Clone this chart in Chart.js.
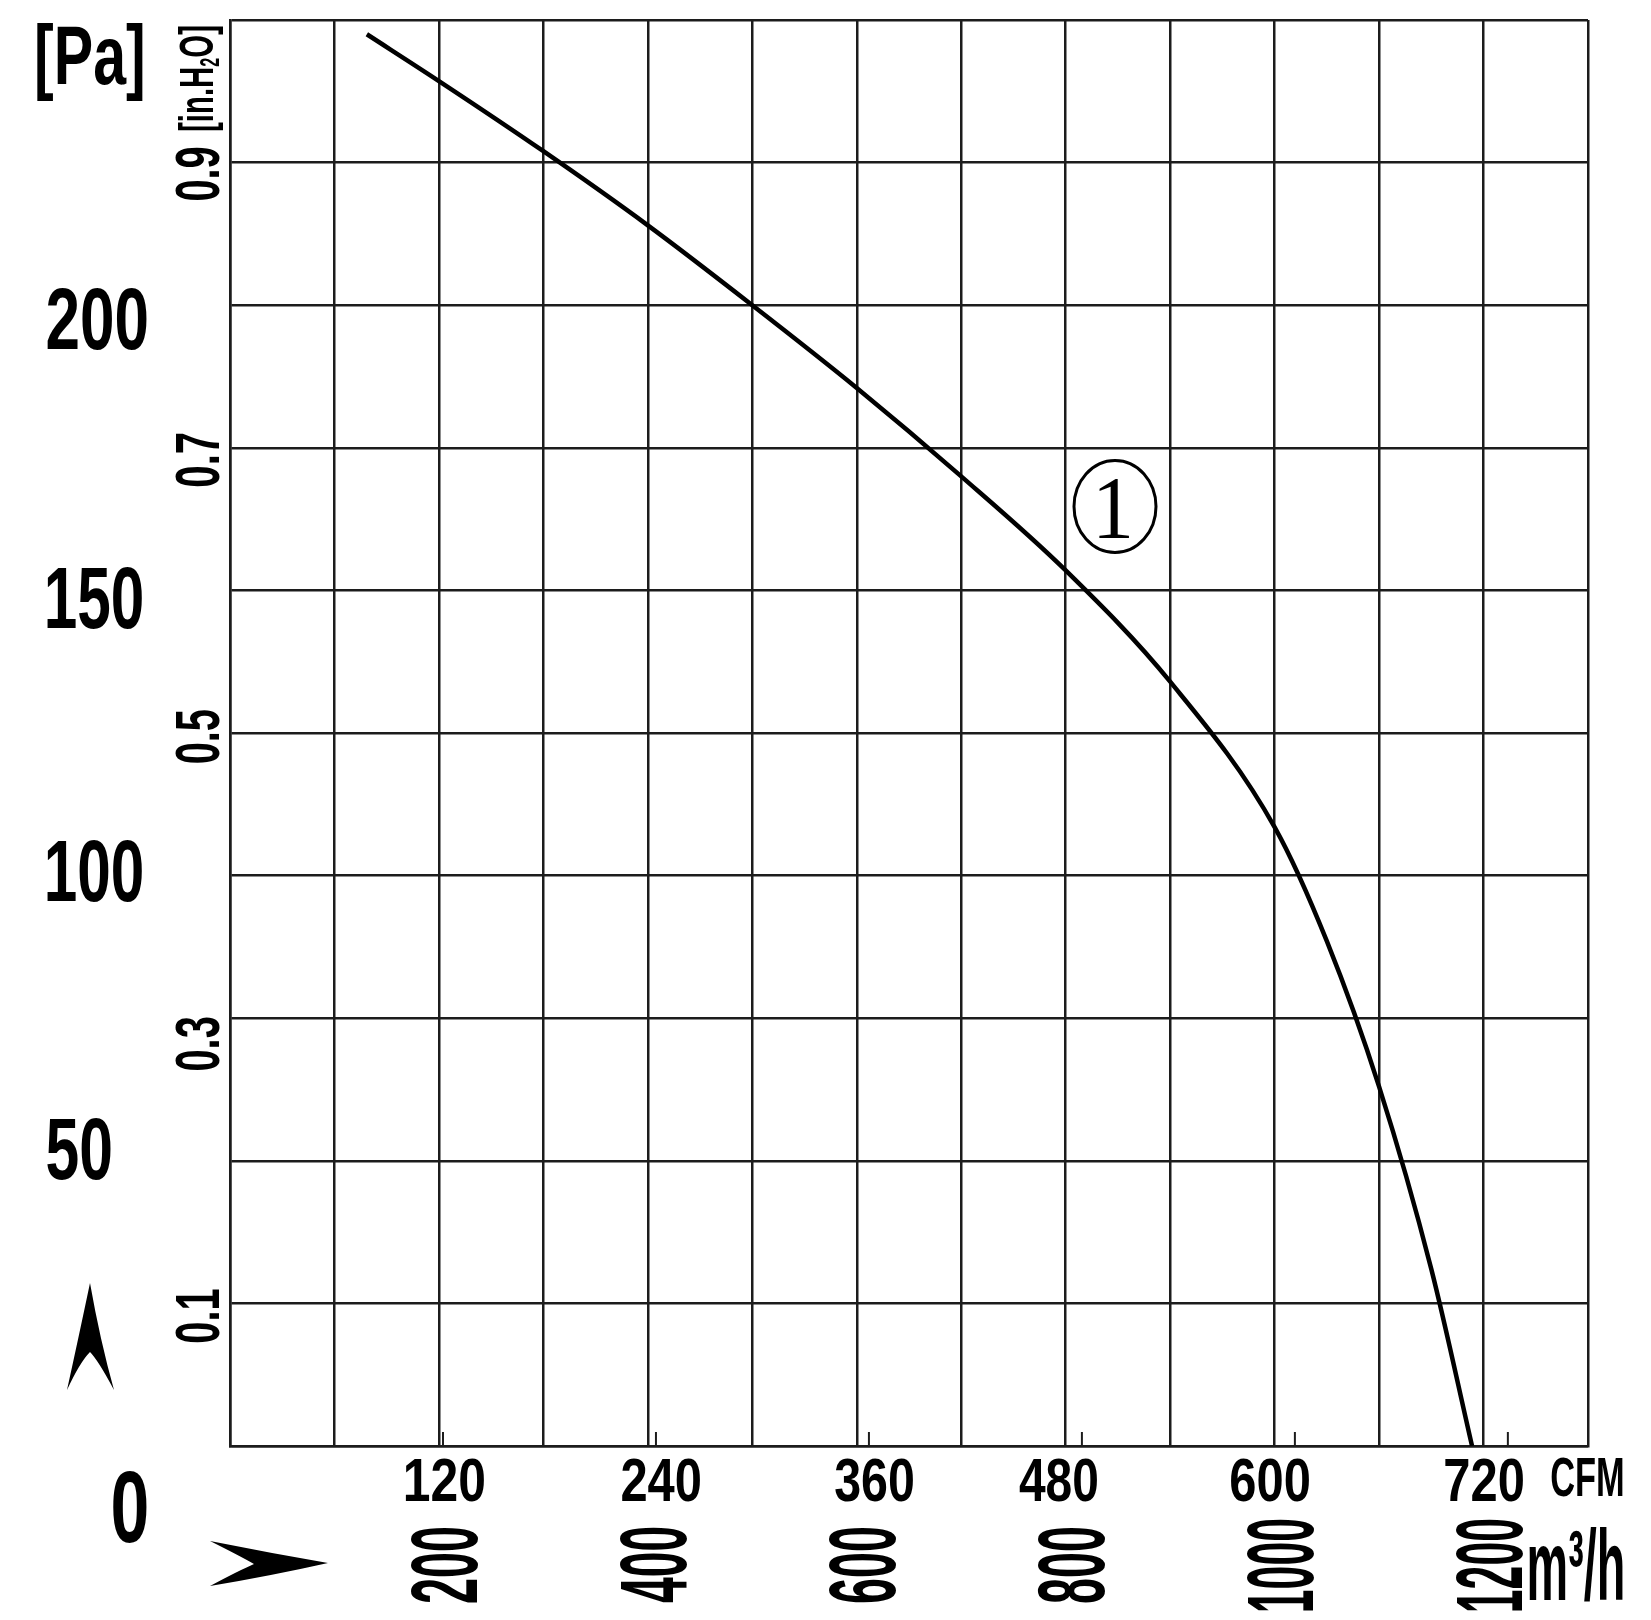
<!DOCTYPE html>
<html>
<head>
<meta charset="utf-8">
<script src="https://cdn.jsdelivr.net/npm/chart.js@4.4.1/dist/chart.umd.min.js"></script>
<style>
html,body{margin:0;padding:0;background:#fff;}
canvas{display:block;}
</style>
</head>
<body>
<canvas id="c" width="1651" height="1620"></canvas>
<script>
// ---- data ----
const flowM3h     = [131, 200, 300, 400, 500, 600, 700, 800, 900, 1000, 1050, 1100, 1150, 1189];
const pressurePa  = [247.5, 239.3, 227, 214, 200, 185.5, 170, 153.5, 134, 108.5, 88.5, 63, 31, 0];
const paTicks     = [200, 150, 100, 50, 0];
const inH2OTicks  = [0.1, 0.3, 0.5, 0.7, 0.9];
const cfmTicks    = [120, 240, 360, 480, 600, 720];
const m3hTicks    = [200, 400, 600, 800, 1000, 1200];
const curveName   = '1';
const PA_PER_INH2O = 249.089;
const M3H_PER_CFM  = 1.69901;

// ---- style / layout ----
const INK = '#1c1c1c';
const SANS = '"Liberation Sans Narrow","Liberation Sans",Arial,sans-serif';
const paLabelBox  = [ {dx:97, dy:14, w:100, h:62}, {dx:95, dy:8, w:95, h:62}, {dx:95, dy:-5, w:95, h:62}, {dx:79, dy:-12, w:64, h:62}, {dx:130, dy:61, w:34, h:73} ];
const inLabelDy   = [12, 24, 1, 8.5, 6.5];
const cfmLabelDx  = [2, 5, 5, -24, -25, -24];

function drawFit(ctx, str, cx, cy, w, h, font, rot) {
  ctx.save();
  ctx.font = font;
  ctx.textAlign = 'left';
  ctx.textBaseline = 'alphabetic';
  const m = ctx.measureText(str);
  const l = m.actualBoundingBoxLeft, r = m.actualBoundingBoxRight;
  const a = m.actualBoundingBoxAscent, d = m.actualBoundingBoxDescent;
  ctx.translate(cx, cy);
  if (rot) ctx.rotate(rot);
  ctx.scale(w / (l + r), h / (a + d));
  ctx.fillText(str, -(r - l) / 2, (a - d) / 2);
  ctx.restore();
}

const decor = {
  id: 'decor',
  beforeDraw(chart) {
    const ctx = chart.ctx;
    ctx.save();
    ctx.fillStyle = '#fff';
    ctx.fillRect(0, 0, chart.width, chart.height);
    ctx.restore();
  },
  afterDraw(chart) {
    const ctx = chart.ctx;
    const xs = chart.scales.x, ys = chart.scales.y;
    const area = chart.chartArea;
    ctx.save();
    ctx.fillStyle = '#000';
    ctx.strokeStyle = '#000';

    // [Pa]
    drawFit(ctx, '[Pa]', 90, 62.5, 106, 79, 'bold 80px ' + SANS);

    // Pa labels
    paTicks.forEach((v, i) => {
      const b = paLabelBox[i];
      drawFit(ctx, String(v), b.dx, ys.getPixelForValue(v) + b.dy, b.w, b.h, 'bold 80px ' + SANS);
    });

    // inH2O labels (rotated)
    inH2OTicks.forEach((v, i) => {
      const y = ys.getPixelForValue(v * PA_PER_INH2O) + inLabelDy[i];
      drawFit(ctx, v.toFixed(1), 197, y, 53, 46, 'bold 64px ' + SANS, -Math.PI / 2);
    });

    // [in.H2O] unit (rotated, with subscript)
    ctx.save();
    ctx.translate(200, 78.5);
    ctx.rotate(-Math.PI / 2);
    const f = 49;
    ctx.textBaseline = 'alphabetic';
    ctx.textAlign = 'left';
    const p1 = '[in.H', p2 = '2', p3 = 'O]';
    ctx.font = 'bold ' + f + 'px ' + SANS;
    const w1 = ctx.measureText(p1).width, w3 = ctx.measureText(p3).width;
    ctx.font = 'bold ' + Math.round(f * 0.55) + 'px ' + SANS;
    const w2 = ctx.measureText(p2).width;
    const W = w1 + w2 + w3;
    ctx.scale(107 / W, 1);
    let x0 = -W / 2;
    const base = f * 0.26;
    ctx.font = 'bold ' + f + 'px ' + SANS;
    ctx.fillText(p1, x0, base);
    ctx.font = 'bold ' + Math.round(f * 0.55) + 'px ' + SANS;
    ctx.fillText(p2, x0 + w1, base + f * 0.12);
    ctx.font = 'bold ' + f + 'px ' + SANS;
    ctx.fillText(p3, x0 + w1 + w2, base);
    ctx.restore();

    // CFM tick marks and labels
    ctx.lineWidth = 2;
    ctx.strokeStyle = INK;
    cfmTicks.forEach((v, i) => {
      const x = xs.getPixelForValue(v * M3H_PER_CFM);
      ctx.beginPath();
      ctx.moveTo(x, area.bottom);
      ctx.lineTo(x, area.bottom - 14);
      ctx.stroke();
      drawFit(ctx, String(v), x + cfmLabelDx[i], 1479.5, 78, 45, 'bold 64px ' + SANS);
    });
    drawFit(ctx, 'CFM', 1587, 1477, 71, 40, 'bold 56px ' + SANS);

    // m3/h labels (rotated)
    m3hTicks.forEach((v) => {
      const s = String(v);
      const len = s.length === 4 ? 91 : 75;
      drawFit(ctx, s, xs.getPixelForValue(v) + 5, 1565, len, 68, 'bold 96px ' + SANS, -Math.PI / 2);
    });
    drawFit(ctx, 'm\u00B3/h', 1576, 1565, 93, 75, 'bold 96px ' + SANS);

    // axis arrows
    ctx.fillStyle = '#000';
    ctx.beginPath();
    ctx.moveTo(90, 1283);
    ctx.quadraticCurveTo(100, 1340, 114, 1390);
    ctx.quadraticCurveTo(98, 1360, 90, 1352);
    ctx.quadraticCurveTo(80, 1362, 67, 1390);
    ctx.quadraticCurveTo(78, 1340, 90, 1283);
    ctx.closePath();
    ctx.fill();
    ctx.beginPath();
    ctx.moveTo(328, 1563);
    ctx.quadraticCurveTo(270, 1576, 210, 1586);
    ctx.quadraticCurveTo(240, 1570, 254, 1564);
    ctx.quadraticCurveTo(240, 1556, 210, 1541);
    ctx.quadraticCurveTo(270, 1553, 328, 1563);
    ctx.closePath();
    ctx.fill();

    // curve label (circled 1)
    ctx.lineWidth = 3;
    ctx.strokeStyle = '#000';
    ctx.beginPath();
    ctx.ellipse(1115, 506.5, 41, 46, 0, 0, Math.PI * 2);
    ctx.stroke();
    drawFit(ctx, curveName, 1114, 507.5, 30, 59, '84px "Liberation Serif","DejaVu Serif",serif');

    ctx.restore();
  }
};

const points = flowM3h.map((x, i) => ({ x: x, y: pressurePa[i] }));

new Chart(document.getElementById('c'), {
  type: 'line',
  data: {
    datasets: [{
      label: '\u2460',
      data: points,
      borderColor: '#000',
      borderWidth: 4.5,
      pointRadius: 0,
      fill: false,
      cubicInterpolationMode: 'monotone'
    }]
  },
  options: {
    responsive: false,
    animation: false,
    devicePixelRatio: 1,
    layout: { padding: { left: 230, top: 20, right: 63, bottom: 174 } },
    plugins: { legend: { display: false }, tooltip: { enabled: false } },
    scales: {
      x: {
        type: 'linear', min: 0, max: 1300,
        ticks: { display: false, stepSize: 100 },
        grid: { color: INK, lineWidth: 2.5, drawTicks: false },
        border: { display: true, color: INK, width: 2.5 },
        afterFit(s) { s.height = 0; }
      },
      y: {
        type: 'linear', min: 0, max: 250,
        ticks: { display: false, stepSize: 25 },
        grid: { color: INK, lineWidth: 2.5, drawTicks: false },
        border: { display: true, color: INK, width: 2.5 },
        afterFit(s) { s.width = 0; }
      }
    }
  },
  plugins: [decor]
});
</script>
</body>
</html>
